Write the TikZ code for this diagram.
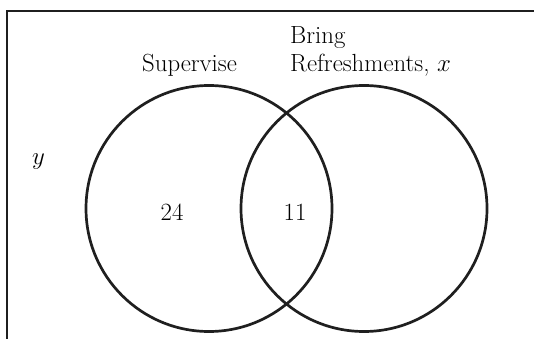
\documentclass[tikz,border=0pt]{standalone}
\begin{document}
\begin{tikzpicture}[x=1pt,y=-1pt,
  ink/.style={draw=black!88},
  setcircle/.style={ink, circle, line width=2.7pt, inner sep=0pt, minimum size=246pt},
  lbl/.style={inner sep=0pt, anchor=base west, font=\fontsize{24.8}{27.7}\selectfont},
  num/.style={inner sep=0pt, anchor=base, font=\fontsize{24.8}{27.7}\selectfont}]
\useasboundingbox (0,0) rectangle (534,339);
\coordinate (tr) at (540,11);
\coordinate (tl) at (7,11);
\coordinate (bl) at (7,345);
\draw[ink, line width=2.3pt] (tr) -- (tl) -- (bl);
\node[setcircle] (sup) at (209,208.5) {};
\node[setcircle] (ref) at (364,208.5) {};
\node[lbl] (supl) at (142,71.7) {Supervise};
\node[lbl] (bring) at (290,44) {Bring};
\node[lbl] (refl) at (290,71.7) {Refreshments, $x$};
\node[lbl] (y) at (32,164) {$y$};
\node[num] (n24) at (172,220) {24};
\node[num] (n11) at (295,220) {11};
\end{tikzpicture}
\end{document}
